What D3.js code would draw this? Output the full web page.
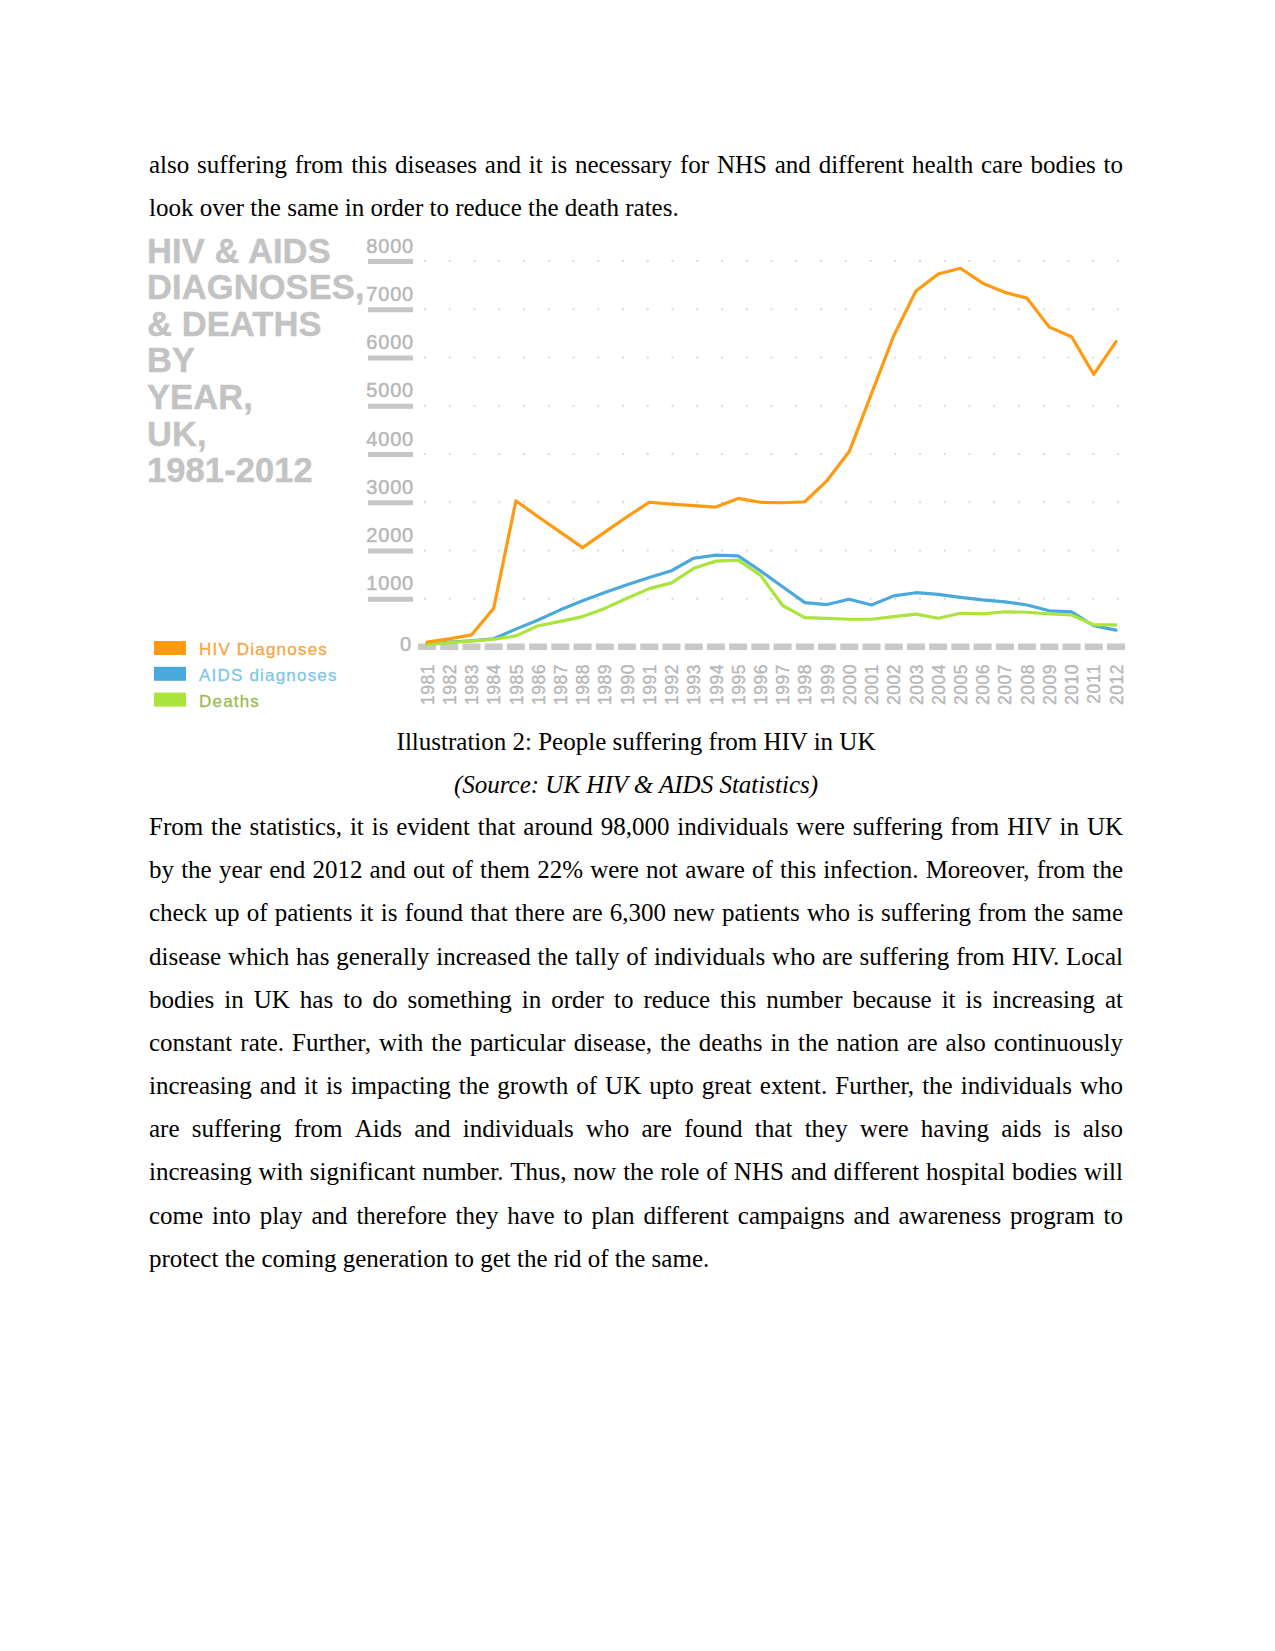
<!DOCTYPE html>
<html><head><meta charset="utf-8">
<script src="https://cdn.jsdelivr.net/npm/d3@7"></script>
<style>body{margin:0;background:#fff} svg{display:block}</style>
</head><body>
<svg id="page" width="1275" height="1651"></svg>
<script>
// ---------- data ----------
const years = [1981,1982,1983,1984,1985,1986,1987,1988,1989,1990,1991,1992,1993,1994,1995,1996,
               1997,1998,1999,2000,2001,2002,2003,2004,2005,2006,2007,2008,2009,2010,2011,2012];
const hivDiagnoses = [100,170,250,800,3030,2700,2380,2060,2380,2700,3000,2960,2930,2900,3080,3000,
                      2990,3010,3450,4050,5250,6450,7380,7730,7850,7540,7350,7230,6630,6430,5650,6330];
const aidsDiagnoses = [60,100,130,170,370,560,770,960,1130,1290,1440,1580,1840,1905,1890,1580,
                       1250,920,880,990,870,1060,1125,1090,1030,975,935,870,750,730,440,350];
const deaths = [50,90,120,160,230,440,530,630,800,1010,1210,1330,1630,1780,1800,1490,
                860,610,595,575,575,630,680,595,700,685,730,720,685,665,460,460];
const yTickValues = [0,1000,2000,3000,4000,5000,6000,7000,8000];
const yTickLabels = ["0","1000","2000","3000","4000","5000","6000","7000","8000"];
const seriesNames = ["AIDS diagnoses","Deaths","HIV Diagnoses"];
const titleLines = ["HIV & AIDS","DIAGNOSES,","& DEATHS","BY","YEAR,","UK,","1981-2012"];
const legendLabels = ["HIV Diagnoses","AIDS diagnoses","Deaths"];

const topLines = [
  "also suffering from this diseases and it is necessary for NHS and different health care bodies to",
  "look over the same in order to reduce the death rates."
];
const captionText = "Illustration 2: People suffering from HIV in UK";
const sourceText = "(Source: UK HIV & AIDS Statistics)";
const bottomLines = [
  "From the statistics, it is evident that around 98,000 individuals were suffering from HIV in UK",
  "by the year end 2012 and out of them 22% were not aware of this infection. Moreover, from the",
  "check up of patients it is found that there are 6,300 new patients who is suffering from the same",
  "disease which has generally increased the tally of individuals who are suffering from HIV. Local",
  "bodies in UK has to do something in order to reduce this number because it is increasing at",
  "constant rate. Further, with the particular disease, the deaths in the nation are also continuously",
  "increasing and it is impacting the growth of UK upto great extent. Further, the individuals who",
  "are suffering from Aids and individuals who are found that they were having aids is also",
  "increasing with significant number. Thus, now the role of NHS and different hospital bodies will",
  "come into play and therefore they have to plan different campaigns and awareness program to",
  "protect the coming generation to get the rid of the same."
];

// ---------- page ----------
const svg = d3.select("#page");
const serif = "'Liberation Serif','Times New Roman',serif";
const sans = "'Liberation Sans',Arial,Helvetica,sans-serif";
const X0 = 149, X1 = 1123;

function textLine(str, yb, justify, italic) {
  const g = svg.append("text").attr("y", yb)
    .style("font-family", serif).style("font-size", "25px").style("fill", "#000")
    .style("font-style", italic ? "italic" : "normal");
  if (!justify) { g.attr("x", X0).text(str); return g; }
  const words = str.split(" ");
  const widths = words.map(w => {
    const t = svg.append("text").style("font-family", serif).style("font-size", "25px").text(w);
    const l = t.node().getComputedTextLength(); t.remove(); return l;
  });
  const gap = (X1 - X0 - d3.sum(widths)) / (words.length - 1);
  let cx = X0;
  words.forEach((w, i) => { g.append("tspan").attr("x", cx).text(w); cx += widths[i] + gap; });
  return g;
}

topLines.forEach((s, i) => textLine(s, 173 + i * 42.5, i < topLines.length - 1));
svg.append("text").attr("x", 636).attr("y", 750).attr("text-anchor", "middle")
  .style("font-family", serif).style("font-size", "25px").text(captionText);
svg.append("text").attr("x", 636).attr("y", 792.5).attr("text-anchor", "middle")
  .style("font-family", serif).style("font-size", "25px").style("font-style", "italic").text(sourceText);
bottomLines.forEach((s, i) => textLine(s, 835 + i * 43.17, i < bottomLines.length - 1));

// ---------- chart ----------
const x = d3.scaleLinear().domain([years[0], years[years.length - 1]]).range([427, 1116]);
const y = d3.scaleLinear().domain([0, 8000]).range([647, 261]);
const chart = svg.append("g");

// title
chart.append("g").selectAll("text").data(titleLines).join("text")
  .attr("x", 147).attr("y", (d, i) => 262.5 + i * 36.6)
  .style("font-family", sans).style("font-weight", "bold").style("font-size", "34.5px")
  .style("letter-spacing", "0.1px").style("fill", "#c3c3c3")
  .style("stroke", "#c3c3c3").style("stroke-width", "0.4px").text(d => d);

// dotted grid
const dotXs = d3.range(29).map(i => 425 + i * 24.75);
yTickValues.filter(v => v > 0).forEach(v => {
  chart.append("g").selectAll("rect").data(dotXs).join("rect")
    .attr("x", d => d - 1).attr("y", y(v) - 1).attr("width", 2).attr("height", 2)
    .attr("fill", "#d9d9d9");
});

// y axis
const yAxis = chart.append("g").attr("transform", "translate(413,0)")
  .call(d3.axisLeft(y).tickValues(yTickValues).tickSize(0).tickPadding(0)
    .tickFormat((d, i) => yTickLabels[i]));
yAxis.select(".domain").remove();
yAxis.selectAll(".tick text")
  .style("font-family", sans).style("font-size", "20px").style("letter-spacing", "0.8px")
  .style("fill", "#b8b8b8").style("stroke", "#b8b8b8").style("stroke-width", "0.5px")
  .attr("x", d => d === 0 ? -1 : 1)
  .attr("dy", d => d === 0 ? "3px" : "-9px");
yAxis.selectAll(".tick").filter(d => d > 0).append("rect")
  .attr("x", -45).attr("y", -2.5).attr("width", 45).attr("height", 5).attr("fill", "#c6c6c6");

// x axis dashes + labels
chart.append("g").selectAll("rect").data(years).join("rect")
  .attr("x", d => x(d) - 9).attr("y", 643.5).attr("width", 18).attr("height", 6.5)
  .attr("fill", "#c9c9c9");
const xAxis = chart.append("g").attr("transform", "translate(0,647)")
  .call(d3.axisBottom(x).tickValues(years).tickSize(0).tickFormat(d3.format("d")));
xAxis.select(".domain").remove();
xAxis.selectAll(".tick text")
  .attr("transform", "rotate(-90)").attr("text-anchor", "end")
  .attr("x", -17).attr("y", 0).attr("dy", "0.35em")
  .style("font-family", sans).style("font-size", "17.5px").style("letter-spacing", "0.5px")
  .style("fill", "#b8b8b8").style("stroke", "#b8b8b8").style("stroke-width", "0.4px");

// lines
const seriesData = [aidsDiagnoses, deaths, hivDiagnoses];
const seriesColors = ["#4aa9dc", "#abe43c", "#ff9a12"];
const line = d3.line().x((d, i) => x(years[i])).y(d => y(d));
chart.append("g").selectAll("path").data(seriesData).join("path")
  .attr("d", d => line(d)).attr("fill", "none")
  .attr("stroke", (d, i) => seriesColors[i]).attr("stroke-width", 3.2)
  .attr("stroke-linejoin", "round").attr("stroke-linecap", "round");

// legend
const legendBoxColors = ["#ff9a12", "#4aa9dc", "#abe43c"];
const legendTextColors = ["#f7a53e", "#80c6ea", "#9dba4f"];
const lg = chart.append("g").selectAll("g").data(legendLabels).join("g")
  .attr("transform", (d, i) => `translate(154,${641 + i * 25.8})`);
lg.append("rect").attr("width", 32).attr("height", 14).attr("fill", (d, i) => legendBoxColors[i]);
lg.append("text").attr("x", 45).attr("y", 14)
  .style("font-family", sans).style("font-size", "17px").style("letter-spacing", "1.2px")
  .style("fill", (d, i) => legendTextColors[i]).style("stroke", (d, i) => legendTextColors[i])
  .style("stroke-width", "0.3px").text(d => d);
</script>
</body></html>
